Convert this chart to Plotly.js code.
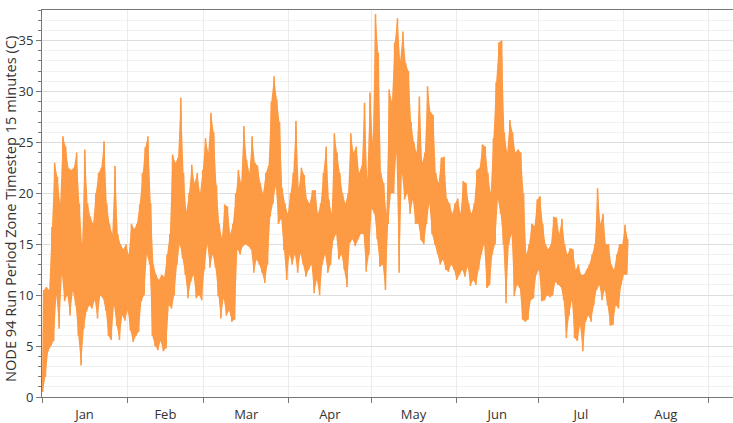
<!DOCTYPE html>
<html>
<head>
<meta charset="utf-8">
<script src="https://cdn.plot.ly/plotly-3.0.1.min.js"></script>
<style>
html, body { margin: 0; padding: 0; overflow: hidden; background: #fff; }
#chart { width: 820px; height: 423px; }
</style>
</head>
<body>
<div id="chart"></div>
<script>
// Series starts on this date; one (min, max) pair per day
const startDate = '2013-01-01';
const dailyMax = [
  10.5, 10.8, 10.5, 16.7, 23, 21.6, 19, 25.6, 24.6, 22.5,
  22.3, 22.5, 24, 19, 15, 24.3, 19, 17.7, 17, 20,
  22, 22.5, 25.1, 19, 17, 16, 22.7, 16, 15, 14.5,
  15, 14, 17, 16.5, 17, 18.9, 22, 24.5, 25.6, 19,
  13, 12, 11.5, 12, 11.8, 14, 16, 23.8, 23, 23.5,
  29.4, 22, 18.2, 20, 22.8, 21, 22, 20, 22.3, 25.4,
  24, 27.9, 26, 20.8, 17, 15.6, 18.9, 18.7, 16, 17,
  20, 22.3, 21, 26.6, 23.3, 22, 25.6, 23, 22.7, 21,
  20, 22, 22.7, 29, 31.5, 29.2, 27, 20.5, 19, 18,
  20, 22, 27.1, 20.5, 22.5, 21.8, 19.4, 19, 20.3, 20.3,
  18, 19, 22, 24.6, 19.4, 18, 25.9, 24, 22, 20,
  19, 20, 25.9, 24, 24.6, 22, 22.7, 28.9, 21.3, 29.9,
  25, 37.6, 33.8, 22, 21, 18, 30.2, 29, 34.8, 37.2,
  33, 35.9, 32.8, 32, 27, 25, 24, 29.5, 23, 24,
  30.5, 28, 27.7, 22, 21, 23.5, 23.6, 19.5, 19, 18,
  19, 19.5, 18, 21.2, 21, 19, 18, 19, 22.3, 22.5,
  24.8, 24.6, 22, 20, 25.4, 30.9, 34.8, 35, 26, 24,
  27.2, 26, 24, 24.3, 24, 20, 14, 15, 17, 16.8,
  19.4, 19.7, 17, 15, 14.5, 15, 17.7, 17.6, 16, 17.5,
  15, 14, 14.6, 14.5, 12.5, 13, 12, 12, 12.5, 13,
  14, 15, 20.5, 17, 18, 15, 15, 13, 12.5, 14,
  15, 15, 16.9, 15.5
];
const dailyMin = [
  0.5, 2, 4.5, 5, 5.5, 10, 6.7, 12, 9.4, 10,
  8, 10.4, 9, 6, 3.1, 6.7, 8.4, 9, 8.7, 9.5,
  7.7, 10, 9.7, 8.5, 6, 5.6, 9, 7, 5.6, 8,
  7.5, 8.5, 6.5, 5.4, 6, 6.4, 9.4, 10, 14, 13,
  6, 5, 4.6, 5.5, 4.5, 4.8, 9, 8.7, 10, 13,
  15, 13.6, 12, 9.7, 11.3, 12, 9.7, 10, 9.5, 12.5,
  15, 12.7, 14, 12.7, 9.9, 7.7, 9.7, 8, 8.5, 7.4,
  7.6, 14.5, 14, 14.8, 15, 14.8, 14.5, 12.2, 13.5, 13,
  12.2, 11.2, 13, 17.7, 19, 20.7, 17, 17.5, 14.4, 11.5,
  14, 13, 14, 12.2, 14.1, 13, 11.8, 12.5, 13, 10.2,
  11.5, 10, 13, 14, 12.2, 13, 15.4, 16, 13.5, 14,
  12.5, 10.8, 15.1, 15.5, 14.8, 15.5, 16, 16, 12.3, 14,
  18.5, 18, 15.5, 12.8, 13, 10.5, 17, 20, 20, 24,
  12.2, 22, 19.4, 20, 18, 19.4, 17, 17, 15.4, 15,
  17, 19, 16, 15, 14.1, 13, 13.5, 12.5, 12.3, 13,
  12.5, 11.5, 12, 12.5, 11.8, 12.8, 10.9, 11.5, 11, 12.5,
  14, 15, 10.7, 11, 14, 15, 19.4, 18, 15, 9.2,
  15, 16, 9.9, 11, 10.7, 7.6, 7.4, 7.6, 9.5, 9.7,
  12, 12.5, 9.4, 9.5, 10, 9.8, 10, 11.3, 11, 10.8,
  9.5, 5.8, 8, 9.5, 5.8, 5.5, 7, 4.5, 7.4, 8,
  7.4, 9, 10.5, 11, 9.5, 10.5, 9, 7, 7.1, 9,
  8.7, 11, 12, 12
];
const yTitle = 'NODE 94 Run Period Zone Timestep 15 minutes (C)';

const t0 = Date.parse(startDate + 'T00:00:00Z');
const dayMs = 86400000;
function iso(ms) { return new Date(ms).toISOString().slice(0, 19).replace('T', ' '); }

// Daily minimum in the early morning, maximum in the afternoon
const xMin = [], xMax = [];
for (let d = 0; d < dailyMax.length; d++) {
  xMin.push(iso(t0 + d * dayMs + 6 * 3600000));
  xMax.push(iso(t0 + d * dayMs + 15 * 3600000));
}
const xs = [], ys = [];
for (let d = 0; d < dailyMax.length; d++) {
  xs.push(xMin[d]); ys.push(dailyMin[d]);
  xs.push(xMax[d]); ys.push(dailyMax[d]);
}

const orange = '#fd9a44';
const upper = { type: 'scatter', mode: 'lines', x: xMax, y: dailyMax,
  line: { color: orange, width: 0 }, hoverinfo: 'skip', showlegend: false };
const lower = { type: 'scatter', mode: 'lines', x: xMin, y: dailyMin,
  line: { color: orange, width: 0 }, fill: 'tonexty', fillcolor: orange,
  hoverinfo: 'skip', showlegend: false };
const trace = { type: 'scatter', mode: 'lines', x: xs, y: ys,
  line: { color: orange, width: 1.6 }, hoverinfo: 'x+y', showlegend: false };

const pxPerDay = 85 / 31;
const plotW = 820 - 42;
const plotH = 423 - 10 - 26;
const endMs = t0 + (plotW / pxPerDay) * dayMs;

const layout = {
  width: 820, height: 423,
  margin: { l: 42, r: 0, t: 10, b: 26 },
  paper_bgcolor: '#ffffff', plot_bgcolor: '#ffffff',
  font: { family: 'Open Sans, Noto Sans, sans-serif', size: 13, color: '#333' },
  xaxis: {
    type: 'date', range: [iso(t0), iso(endMs)],
    dtick: 'M1', tick0: startDate, tickformat: '%b', ticklabelmode: 'period',
    ticks: 'outside', ticklen: 5, tickcolor: '#777',
    showline: true, linecolor: '#777', linewidth: 1, mirror: true,
    showgrid: true, gridcolor: '#ececec', zeroline: false,
    tickfont: { size: 13, color: '#333' }
  },
  yaxis: {
    range: [0, 38], dtick: 5, tick0: 0,
    ticks: 'outside', ticklen: 5, tickcolor: '#777',
    showline: true, linecolor: '#777', linewidth: 1,
    showgrid: true, gridcolor: '#dddddd', zeroline: false,
    minor: { dtick: 1, ticks: 'outside', ticklen: 3, tickcolor: '#777', showgrid: true, gridcolor: '#f1f1f1' },
    tickfont: { size: 13, color: '#333' }
  },
  annotations: [{
    text: yTitle, textangle: -90, showarrow: false,
    xref: 'paper', yref: 'paper',
    x: -(42 - 10) / plotW, xanchor: 'center',
    y: (397 - 209) / plotH, yanchor: 'middle',
    font: { size: 14.6, color: '#333' }
  }]
};

Plotly.newPlot('chart', [upper, lower, trace], layout, { displayModeBar: false, staticPlot: true });
</script>
</body>
</html>
